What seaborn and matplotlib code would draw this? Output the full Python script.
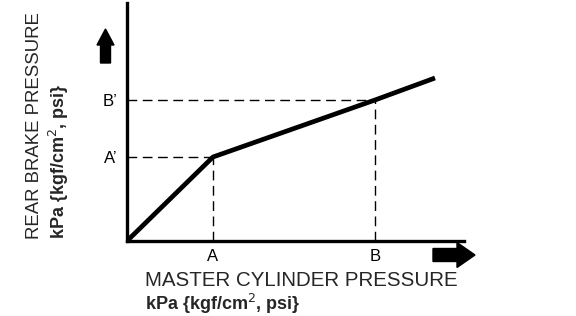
import matplotlib
matplotlib.use("Agg")
import matplotlib.pyplot as plt
import seaborn as sns
import pandas as pd

# Data (schematic values)
master_pressure = [0, 86, 248, 308]
rear_pressure = [0, 84, 141, 163]
x_tick_pos = [86, 248]
x_tick_labels = ["A", "B"]
y_tick_pos = [84, 141]
y_tick_labels = ["A\u2019", "B\u2019"]
x_label_lines = ["MASTER CYLINDER PRESSURE", "kPa {kgf/cm$^2$, psi}"]
y_label_lines = ["REAR BRAKE PRESSURE", "kPa {kgf/cm$^2$, psi}"]

sns.set_style("white")
plt.rcParams['font.family'] = ['Liberation Sans', 'DejaVu Sans']

fig = plt.figure(figsize=(5.76, 3.16), dpi=100)
ax = fig.add_axes([127/576, 1 - 241/316, (464 - 127)/576, (241 - 3)/316])

df = pd.DataFrame({"x": master_pressure, "y": rear_pressure})
sns.lineplot(data=df, x="x", y="y", ax=ax, color="black", linewidth=3.4,
             solid_joinstyle="round", solid_capstyle="butt")

# dashed guide lines
for xv, yv in zip(x_tick_pos, y_tick_pos):
    ax.plot([0, xv], [yv, yv], color="black", linestyle=(0, (7, 4)), linewidth=1.0)
    ax.plot([xv, xv], [0, yv], color="black", linestyle=(0, (7, 4)), linewidth=1.0)

ax.set_xlim(0, 337)
ax.set_ylim(0, 238)
for s in ["top", "right"]:
    ax.spines[s].set_visible(False)
for s in ["left", "bottom"]:
    ax.spines[s].set_linewidth(2.4)
    ax.spines[s].set_color("black")

ax.set_xticks(x_tick_pos)
ax.set_xticklabels(x_tick_labels, fontsize=12)
ax.set_yticks(y_tick_pos)
ax.set_yticklabels(y_tick_labels, fontsize=12)
ax.tick_params(axis="x", length=0, pad=6, colors="black")
ax.tick_params(axis="y", length=0, pad=7, colors="black")
ax.set_xlabel("")
ax.set_ylabel("")

# axis titles
fig.text(145/576, 1 - 281/316, x_label_lines[0], fontsize=14.8, ha="left", va="center")
fig.text(145/576, 1 - 304/316, x_label_lines[1], fontsize=13, ha="left", va="center",
         fontweight="bold")
fig.text(35/576, 1 - 239/316, y_label_lines[0], fontsize=13.4, rotation=90,
         ha="center", va="bottom")
fig.text(59/576, 1 - 239/316, y_label_lines[1], fontsize=13, rotation=90,
         ha="center", va="bottom", fontweight="bold")

# direction arrows
fig.patches.append(matplotlib.patches.FancyArrow(
    105.5/576, 1 - 63/316, 0, 34/316, width=10/576, head_width=17/576,
    head_length=16/316, length_includes_head=True, color="black",
    transform=fig.transFigure, figure=fig))
fig.patches.append(matplotlib.patches.FancyArrow(
    433/576, 1 - 255/316, 42/576, 0, width=13/316, head_width=25/316,
    head_length=18/576, length_includes_head=True, color="black",
    transform=fig.transFigure, figure=fig))

fig.savefig("out.png", dpi=100)
